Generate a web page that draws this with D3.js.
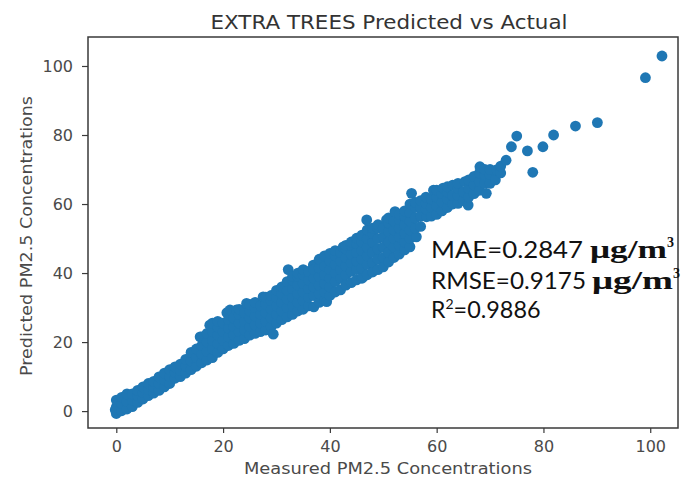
<!DOCTYPE html>
<html>
<head>
<meta charset="utf-8">
<script src="https://cdn.jsdelivr.net/npm/d3@7"></script>
<style>
  body { margin: 0; background: #fff; }
  svg { display: block; }
</style>
</head>
<body>
<div id="figure"><svg width="683" height="487"></svg></div>
<script>
// [measured, predicted] pairs
var bandLow = [
  [0,-0.7],[0,1.2],[0,3.2],[0.4,2.2],[-0.2,0.4],
  [1,0.1],[1,2.2],[1,4],[2,0.6],[2,2.8],[2,5],[3,1.3],[3,3.2],[3,5],
  [4,2.5],[4,4.5],[4,6],[5,3.5],[5,5.4],[5,7],[6,4.5],[6,6.3],[6,8],
  [7,5.2],[7,7],[7,8.6],[8,6],[8,8],[8,9.9],[9,7],[9,9],[9,11],
  [10,8],[10,10],[10,12],[11,9.5],[11,11.2],[11,12.8],[12,10],[12,11.8],[12,13.6],
  [13,11],[13,13],[13,15],[14,12],[14,14.5],[14,17],
  [15,13],[15,15.5],[15,18],[15.7,21.5],[16,14],[16,16.5],[16,19],[16,21.5],
  [17,14.8],[17,17.3],[17,20],[17,22.5],[17.5,24.9],
  [18,15.5],[18,18],[18,20.5],[18,23],[18,25.5],
  [19,17],[19,19.5],[19,22],[19,24.3],[19,26]
];
var bandMid = [
  [20,18],[20,20.5],[20,23],[20,25.5],[20.7,28.5],
  [21,19],[21,21.5],[21,24],[21,26.5],[21.3,29.3],
  [22,19.6],[22,22],[22,24.5],[22,27],[22.5,29.3],
  [23,20.5],[23,23],[23,25.5],[23,28],[23,29.5],
  [24,21],[24,23.5],[24,26],[24,28.5],[24.4,31.2],
  [25,22],[25,24.5],[25,27],[25,29],[25,30.9],
  [26,22.5],[26,25],[26,27.5],[26,30],[26,31.5],
  [27,23],[27,25.5],[27,28],[27,30.5],[27.5,33.1],
  [28,23.5],[28,26],[28,28.5],[28,31],[28,33],
  [29,24.5],[29,27],[29,29.5],[29,32],[29,33.5],[29.4,22.3],
  [30,25.5],[30,28],[30,30.5],[30,33],[30,35],
  [31,26.5],[31,29],[31,31.5],[31,34],[31,36],
  [32,27.3],[32,30],[32,32.5],[32,35],[32,37.5],[32.2,41],
  [33,28],[33,30.5],[33,33],[33,35.5],[33,38],[33,39],
  [34,29],[34,31.5],[34,34],[34,36.5],[34,39],[34,40],
  [35,29.5],[35,32],[35,34.5],[35,37],[35,39.5],[35,41],
  [36,30.5],[36,33],[36,35.5],[36,38],[36,40.5],[36.9,42.3],
  [37,30.2],[37,33.5],[37,36],[37,38.5],[37,41],
  [38,31.5],[38,34],[38,36.5],[38,39],[38,41.5],[38,44],
  [39,32],[39.4,31.7],[39,34.5],[39,37],[39,39.5],[39,42],[39,45]
];
var bandHigh = [
  [40,33.5],[40,36],[40,38.5],[40,41],[40,43.5],[40,45.7],
  [41,34.5],[41,37.5],[41,40],[41,42.5],[41,45],[41,46.5],
  [42,35.1],[42,38.5],[42,41],[42,43.5],[42,46],[42.5,47.6],
  [43,36.5],[43,39.5],[43,42],[43,44.5],[43,47],[43,48],
  [44,37.2],[44,40.5],[44,43],[44,45.5],[44,48],[44,49],
  [45,38],[45,41],[45,43.5],[45,46],[45,48.5],[45,50.1],
  [46,38.5],[46.2,38.8],[46,41.5],[46,44],[46,46.5],[46,49],[46,51],
  [47,39.5],[47,42.5],[47,45],[47,47.5],[47,50],[47,52.5],[46.9,55.4],
  [48,40.3],[48,43],[48,46],[48,49],[48,51.5],[48,53],
  [49,41],[49,44],[49,47],[49,50],[49,53],[49,54],
  [50,41.8],[50,44.5],[50,47.5],[50,50.5],[50,53],[50.6,55.4],
  [51,43.2],[51,46],[51,49],[51,52],[51,54.5],[51,56],
  [52,44.5],[52,47.5],[52,50],[52,52.5],[52,55],[52.2,57.8],
  [53,45.5],[53,48],[53,50.5],[53,53],[53,55.5],[53,57],
  [54,46.7],[54,49],[54,51.5],[54,54],[54,56.5],[54,58],
  [55,47.6],[55,50],[55,52.5],[55,55],[55,57.5],[55,60],[55.3,63.1],
  [56.2,50.5],[56,53],[56,56],[56,59],[56,60.5],
  [57,53.5],[57,56.5],[57,59],[57,61],
  [58.1,56.3],[58,58.5],[58,60.2],[58,62],
  [59,56.5],[59,59],[59,61.5],[59.4,64]
];
var bandTop = [
  [60,57],[60,59.5],[60,62],[60,64],
  [61,58],[61,60.5],[61,63],[61.2,64.6],
  [62,59],[62,61.5],[62,63.5],[62,65],
  [63,60],[63,62.5],[63,65.5],
  [64,60.2],[64,62.5],[64,64.5],[64,66],
  [65,61],[65,63.5],[65.3,66.5],
  [65.9,59.7],[66,62],[66,64.5],[66,67],
  [67,63],[67,65.5],[67,68],
  [68,64],[68,66.5],[68,69],[68.1,70.8],
  [69.3,63.1],[69,66],[69,68.5],[69,70],
  [70,66],[70,68.5],[70,70],
  [71,67],[71.2,69.9],[72,69],[72,71],[73,72.7]
];
var outliers = [
  [74,76.6],[75,79.7],[77,75.4],[78,69.2],[79.9,76.6],
  [81.9,80],[86,82.6],[90.1,83.6],[99.1,96.6],[102.2,102.9]
];
var xTicks = [0, 20, 40, 60, 80, 100];
var yTicks = [0, 20, 40, 60, 80, 100];
var metrics = [
  {label: "MAE=0.2847", unit: true},
  {label: "RMSE=0.9175", unit: true},
  {label: "R", sup: "2", rest: "=0.9886"}
];

var figure = d3.select("div#figure svg");
var plotLeft = 88, plotRight = 678, plotTop = 37, plotBottom = 428;
var dotColor = "#1f77b4";
var axisColor = "#3a3a3a";
var textColor = "#4a4a4a";

var x = d3.scaleLinear().domain([-5.3, 105.2]).range([plotLeft, plotRight]);
var y = d3.scaleLinear().domain([-4.9, 108.4]).range([plotBottom, plotTop]);

var allPoints = bandLow.concat(bandMid, bandHigh, bandTop, outliers);

figure.append("g")
    .attr("id", "points")
    .selectAll("circle")
    .data(allPoints)
    .enter()
    .append("circle")
    .attr("cx", function(d) { return x(d[0]); })
    .attr("cy", function(d) { return y(d[1]); })
    .attr("r", 5.4)
    .style("fill", dotColor);

var xAxis = figure.append("g")
    .attr("transform", "translate(0," + plotBottom + ")")
    .call(d3.axisBottom(x).tickValues(xTicks).tickSize(5).tickPadding(8).tickFormat(d3.format("d")));
var yAxis = figure.append("g")
    .attr("transform", "translate(" + plotLeft + ",0)")
    .call(d3.axisLeft(y).tickValues(yTicks).tickSize(6).tickPadding(9).tickFormat(d3.format("d")));

[xAxis, yAxis].forEach(function(ax) {
  ax.select(".domain").remove();
  ax.selectAll("line").attr("stroke", axisColor).attr("stroke-width", 1.2);
  ax.selectAll("text")
    .attr("fill", textColor)
    .attr("font-family", "DejaVu Sans, sans-serif")
    .attr("font-size", 16);
});

// frame
figure.append("rect")
    .attr("x", plotLeft)
    .attr("y", plotTop)
    .attr("width", plotRight - plotLeft)
    .attr("height", plotBottom - plotTop)
    .attr("fill", "none")
    .attr("stroke", axisColor)
    .attr("stroke-width", 1.5);

figure.append("text")
    .attr("x", 389)
    .attr("y", 29)
    .attr("text-anchor", "middle")
    .attr("font-family", "DejaVu Sans, sans-serif")
    .attr("font-size", 19)
    .attr("fill", "#333")
    .attr("textLength", 357)
    .attr("lengthAdjust", "spacingAndGlyphs")
    .text("EXTRA TREES Predicted vs Actual");

figure.append("text")
    .attr("x", 388)
    .attr("y", 474)
    .attr("text-anchor", "middle")
    .attr("font-family", "DejaVu Sans, sans-serif")
    .attr("font-size", 16)
    .attr("fill", textColor)
    .attr("textLength", 288)
    .attr("lengthAdjust", "spacingAndGlyphs")
    .text("Measured PM2.5 Concentrations");

figure.append("text")
    .attr("transform", "translate(32,236) rotate(-90)")
    .attr("text-anchor", "middle")
    .attr("font-family", "DejaVu Sans, sans-serif")
    .attr("font-size", 16)
    .attr("fill", textColor)
    .attr("textLength", 280)
    .attr("lengthAdjust", "spacingAndGlyphs")
    .text("Predicted PM2.5 Concentrations");

// metrics annotation
var baselines = [258, 289, 318];
metrics.forEach(function(m, i) {
  var t = figure.append("text")
      .attr("x", 431)
      .attr("y", baselines[i])
      .attr("font-family", "Lato, sans-serif")
      .attr("font-size", 23)
      .attr("fill", "#111");
  if (m.unit) {
    t.append("tspan")
        .attr("textLength", m.label.length > 10 ? 155 : 152)
        .attr("lengthAdjust", "spacingAndGlyphs")
        .text(m.label);
    t.append("tspan")
        .attr("x", i === 0 ? 590 : 592)
        .attr("font-family", "Liberation Serif, serif")
        .attr("font-weight", "bold")
        .attr("font-size", 25)
        .attr("textLength", i === 0 ? 77 : 81)
        .attr("lengthAdjust", "spacingAndGlyphs")
        .text("\u03bcg/m");
    t.append("tspan")
        .attr("dy", -11)
        .attr("font-family", "Liberation Serif, serif")
        .attr("font-weight", "bold")
        .attr("font-size", 14)
        .text("3");
  } else {
    t.append("tspan").text(m.label);
    t.append("tspan")
        .attr("dy", -9)
        .attr("font-size", 14)
        .text(m.sup);
    t.append("tspan")
        .attr("dy", 9)
        .attr("textLength", 87)
        .attr("lengthAdjust", "spacingAndGlyphs")
        .text(m.rest);
  }
});
</script>
</body>
</html>
